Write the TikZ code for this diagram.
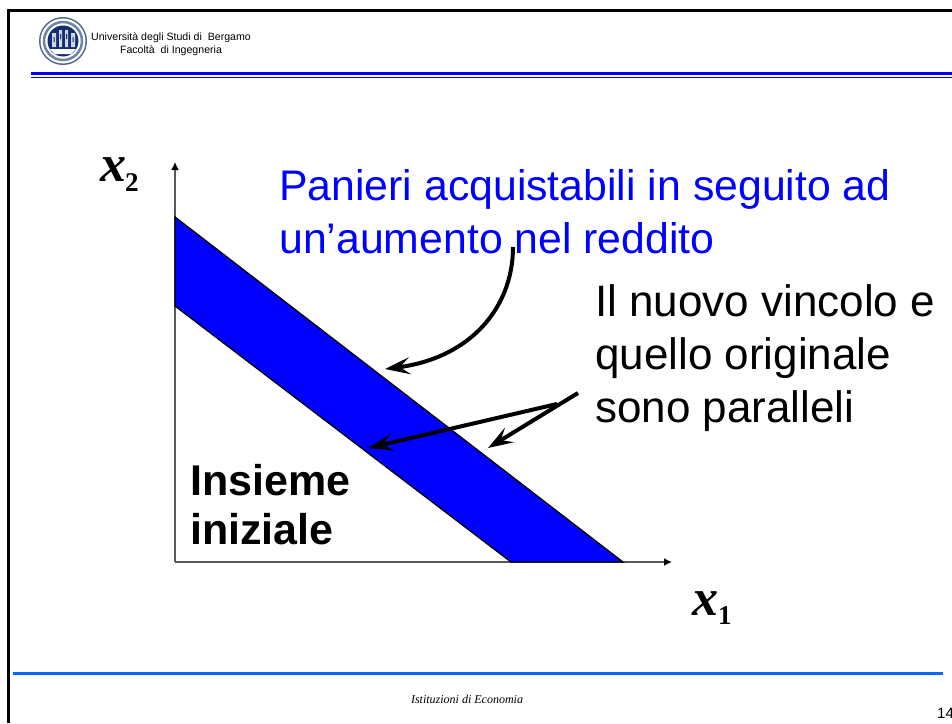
\documentclass[tikz,border=0pt]{standalone}
\usepackage{fontspec}
\setmainfont{Liberation Sans}
\newfontfamily\timesf{Liberation Serif}
\usetikzlibrary{arrows.meta}
\definecolor{logoblue}{HTML}{0F2F6E}
\definecolor{footblue}{HTML}{0A66FF}
\tikzset{
  px/.style={x=1pt,y=-1pt},
  bigtext/.style={font=\fontsize{43}{53}\selectfont,align=left,inner sep=0pt},
  axisline/.style={draw=black!65,line width=2pt,-{Latex[length=8pt,width=8pt,black]}},
  callout/.style={line width=4pt,-{Stealth[length=25pt,width=17pt,inset=10pt]}},
  vartext/.style={font=\timesf\bfseries\itshape\fontsize{52}{52}\selectfont,inner sep=0pt,anchor=base west},
  subtext/.style={font=\timesf\bfseries\fontsize{27}{27}\selectfont,inner sep=0pt,anchor=base west},
}
\begin{document}
\begin{tikzpicture}[px]
\useasboundingbox (0,0) rectangle (952,723);
\fill[white] (0,0) rectangle (952,723);
% frame
\draw[line width=3pt] (8.5,723) -- (8.5,10.5) -- (952,10.5);
% logo
\fill[logoblue!75!white] (63,41) circle (24);
\fill[white] (63,41) circle (22.5);
\draw[logoblue!60!white,line width=2.5pt] (63,41) circle (19);
\fill[logoblue] (63,41) circle (15.5);
\fill[white!80!logoblue] (52,33) rectangle (56,47) (59,30) rectangle (62,47) (65,30) rectangle (68,47) (71,33) rectangle (75,47);
\fill[logoblue] (53.5,37) rectangle (54.5,42) (60,34) rectangle (61,39) (66,34) rectangle (67,39) (72.5,37) rectangle (73.5,42);
\fill[white] (50,49) -- (76,49) -- (71,54) -- (55,54) -- cycle;
% header
\node[font=\fontsize{10.6}{13.5}\selectfont,align=center,inner sep=0pt] (head) at (171,44) {Università degli Studi di\ \ Bergamo\\Facoltà\ \ di Ingegneria};
\coordinate (h1a) at (31,73); \coordinate (h1b) at (952,73);
\coordinate (h2a) at (31,77.5); \coordinate (h2b) at (952,77.5);
\draw[blue,line width=3pt] (h1a) -- (h1b);
\draw[blue,line width=1pt] (h2a) -- (h2b);
% band
\coordinate (origin) at (175,562);
\coordinate (ytip) at (175,162);
\coordinate (xtip) at (672,562);
\coordinate (a) at (175,217);
\coordinate (b) at (623,562);
\coordinate (c) at (511,562);
\coordinate (d) at (175,306);
\draw[axisline] (origin) -- (ytip);
\draw[axisline] (origin) -- (xtip);
\filldraw[fill=blue,draw=black,line width=1.3pt,line join=miter] (a) -- (b) -- (c) -- (d) -- cycle;
% labels
\node[vartext] (x2) at (100,181) {x};
\node[subtext] (x2s) at (125,191) {2};
\node[vartext] (x1) at (692,615) {x};
\node[subtext] (x1s) at (718,624) {1};
\node[bigtext,text=blue,anchor=north west,font=\fontsize{42.8}{53}\selectfont] (pan) at (279,169) {Panieri acquistabili in seguito ad\\un’aumento nel reddito};
\node[bigtext,anchor=north west,font=\fontsize{44}{53}\selectfont] (nuovo) at (595,284) {Il nuovo vincolo e\\quello originale\\sono paralleli};
\node[bigtext,font=\bfseries\fontsize{43}{49}\selectfont,anchor=north west] (ins) at (190,464) {Insieme\\iniziale};
% callouts
\coordinate (s1) at (513,247); \coordinate (e1) at (385,369);
\coordinate (s2) at (578,393); \coordinate (e2) at (488,448);
\coordinate (s3) at (557,404); \coordinate (e3) at (368,448);
\draw[callout] (s1) .. controls (513,308) and (470,358) .. (e1);
\draw[callout] (s2) -- (e2);
\draw[callout] (s3) -- (e3);
% footer
\coordinate (f1) at (13,673); \coordinate (f2) at (943,673);
\draw[footblue,line width=3pt] (f1) -- (f2);
\node[font=\timesf\itshape\fontsize{12}{12}\selectfont,inner sep=0pt] (foot) at (467,699) {Istituzioni di Economia};
\node[font=\fontsize{15}{15}\selectfont,inner sep=0pt,anchor=base west] (pg) at (937,718) {14};
\end{tikzpicture}
\end{document}
